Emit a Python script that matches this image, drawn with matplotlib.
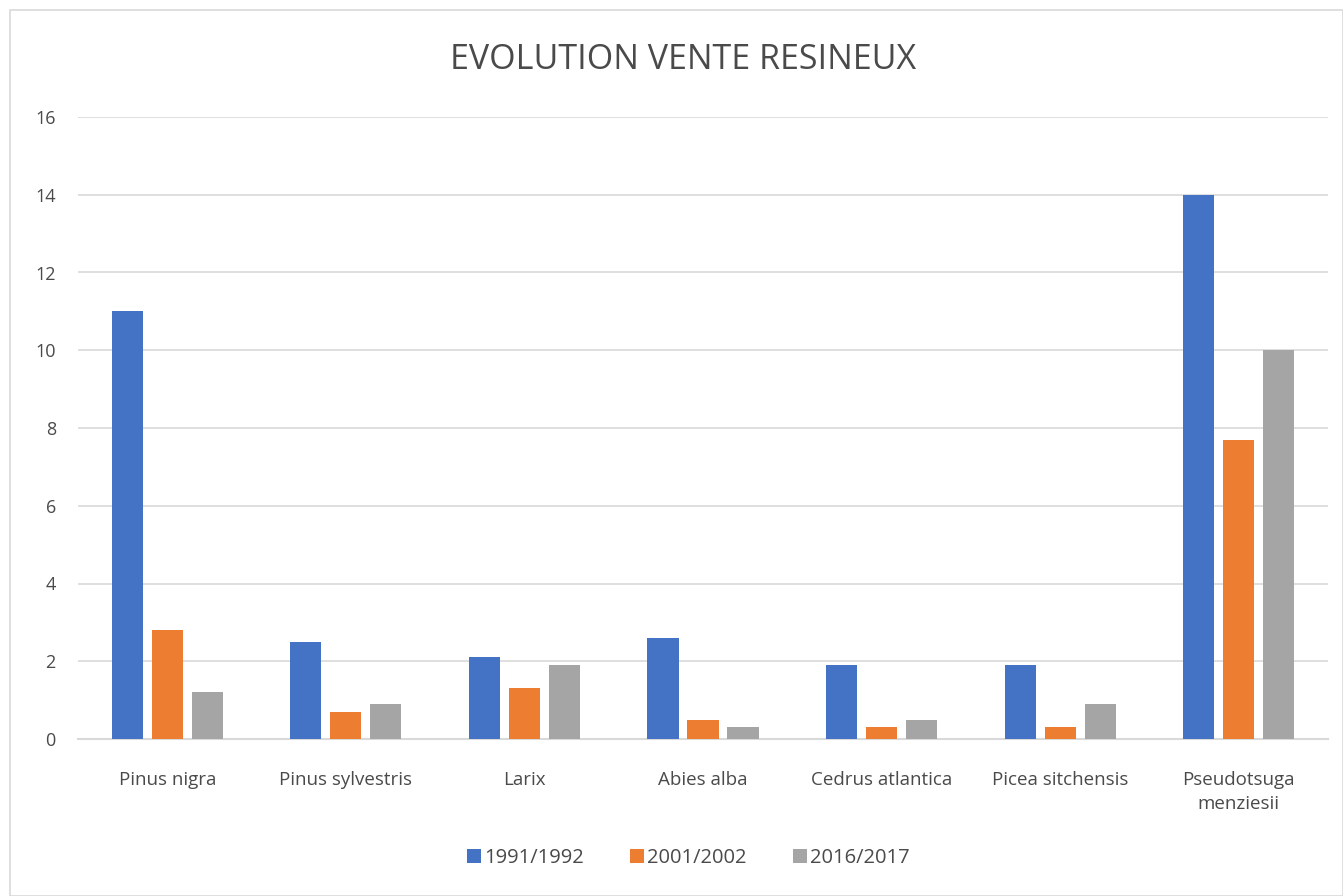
import matplotlib
matplotlib.use("Agg")
import matplotlib.pyplot as plt
import numpy as np
from matplotlib.patches import Rectangle

categories = ["Pinus nigra", "Pinus sylvestris", "Larix", "Abies alba",
              "Cedrus atlantica", "Picea sitchensis", "Pseudotsuga\nmenziesii"]
series_names = ["1991/1992", "2001/2002", "2016/2017"]
v1991 = [11, 2.5, 2.1, 2.6, 1.9, 1.9, 14]
v2001 = [2.8, 0.7, 1.3, 0.5, 0.3, 0.3, 7.7]
v2016 = [1.2, 0.9, 1.9, 0.3, 0.5, 0.9, 10]
colors = ["#4472C4", "#ED7D31", "#A5A5A5"]

plt.rcParams['font.family'] = ['Open Sans', 'DejaVu Sans']
txt = "#4A4A4A"

fig = plt.figure(figsize=(13.43, 8.96), dpi=100)
fig.patches.append(Rectangle((10/1343, 0.0), 1333/1343, 1-10/896, transform=fig.transFigure,
                             fill=False, edgecolor="#D9D9D9", linewidth=1.2))
ax = fig.add_axes([78/1343, 1-739/896, (1328-78)/1343, (739-117)/896])

x = np.arange(len(categories))
w = 0.175
step = 0.224
for i, (vals, name) in enumerate(zip([v1991, v2001, v2016], series_names)):
    ax.bar(x + (i-1)*step, vals, width=w, color=colors[i], label=name, zorder=3)

ax.set_xlim(-0.5, len(categories)-0.5)
ax.set_ylim(0, 16)
ax.set_yticks(range(0, 17, 2))
ax.grid(axis='y', color="#D9D9D9", linewidth=1.2, zorder=0)
for s in ["top", "right", "left"]:
    ax.spines[s].set_visible(False)
ax.spines["bottom"].set_color("#D9D9D9")
ax.spines["bottom"].set_linewidth(1.5)
ax.tick_params(axis='both', length=0, colors=txt)
ax.tick_params(axis='y', pad=16, labelsize=13)
ax.tick_params(axis='x', pad=23, labelsize=13.5)
ax.set_xticks(x)
ax.set_xticklabels(categories, linespacing=1.4)

fig.text(683/1343, 1-60/896, "EVOLUTION VENTE RESINEUX", ha='center', va='center',
         fontsize=24.5, color=txt)
ax.legend(loc='center', bbox_to_anchor=((688-78)/1250, (739-858)/622), ncol=3, frameon=False,
          fontsize=14.5, handlelength=0.7, handleheight=0.7, handletextpad=0.15,
          columnspacing=2.3, labelcolor=txt)

fig.savefig("out.png", dpi=100)
